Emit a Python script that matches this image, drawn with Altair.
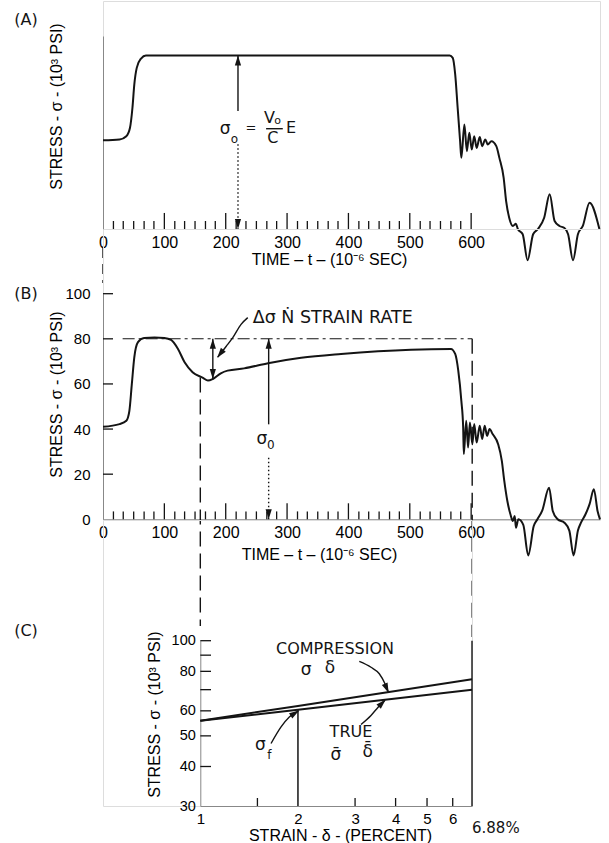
import altair as alt
import pandas as pd

FONT = "DejaVu Sans"
INK = "#141414"
ARROW = "M0,-1L0.62,1L-0.62,1Z"

# ---------------- data ----------------
# Panel A: stress vs time (elastic bar)
a_time = [0, 27, 38, 44, 48, 51, 55, 62, 70, 565, 570, 574, 578, 582, 584,
          589, 593, 597, 601, 605, 609, 614, 618, 623, 627, 633, 641, 646, 653,
          657, 662, 668, 673, 676, 684, 692, 701, 709, 719, 728, 736, 744, 752,
          758, 766, 774, 782, 793, 809]
a_stress = [40.9, 41.3, 42.8, 46.7, 55.9, 66.6, 74.3, 78.6, 80, 80, 78.9, 71.3, 55.9, 40.5, 32.8,
            48.2, 35.9, 44.4, 36.7, 42.8, 37.4, 42.4, 38.2, 41.3, 39.0, 40.5, 38.2, 32.8, 23.6,
            12.9, 5.2, 1.4, 2.4, 0, -2.4, -14.4, -2.4, 0, 5.2, 16, 3.7, 1.4, 0.5,
            -2.4, -14.4, -2.4, 1.4, 12.1, 0]

# Panel B: stress vs time (specimen)
b_time = [0, 27, 38, 43, 47, 51, 57, 67, 84, 100, 111, 122, 133, 146, 163, 171, 179, 192, 203, 230,
          269, 323, 388, 502, 567, 574, 579, 584, 587, 588, 592, 595, 598, 602, 605, 609, 614, 618,
          622, 626, 630, 635, 644, 650, 654, 659, 664, 668, 671, 673, 677, 685, 693, 702, 708, 716,
          727, 733, 741, 752, 760, 767, 774, 779, 786, 793, 800, 806, 810]
b_stress = [41.0, 42.2, 43.7, 48.1, 60.0, 71.8, 78.5, 80.4, 80.6, 80.4, 79.5, 75.6, 69.6, 65.2, 62.7,
            61.5, 62.2, 64.7, 65.9, 66.9, 69.2, 71.6, 73.3, 75.2, 75.5, 73.3, 65.9, 52.6, 40.7, 28.9,
            43.7, 31.8, 42.9, 33.3, 42.2, 34.0, 41.5, 35.6, 41.5, 37.0, 40.0, 37.8, 33.3, 25.9, 17.0,
            8.1, 2.2, -0.8, 1.5, -3.7, 0.0, -2.5, -16.0, -3.0, 0.0, 4.0, 14.0, 3.7, 0.0, -1.5, -5.0,
            -16.0, -5.0, -1.5, 2.0, 6.7, 13.3, 3.7, 0.0]

# Panel C: log stress vs log strain
c_strain = [1.0, 2.0, 6.88]
c_compression = [55.8, 62.2, 75.5]
c_true = [55.8, 60.5, 70.0]

# axis values
time_labels = [0, 100, 200, 300, 400, 500, 600]
time_major = [100, 200, 300, 400, 500, 600]
time_minor = [17, 33, 50, 67, 83, 117, 133, 150, 167, 183, 217, 233, 250, 267, 283,
              317, 333, 350, 367, 383, 417, 433, 450, 467, 483, 517, 533, 550, 567, 583]
b_ylabels = [0, 20, 40, 60, 80, 100]
b_yticks = [20, 40, 60, 80, 100]
c_xlabels = [1, 2, 3, 4, 5, 6]
c_xticks = [1.5, 3, 4, 5, 6]
c_ylabels = [30, 40, 50, 60, 80, 100]
c_yticks = [40, 50, 60, 70, 80, 90, 100]


# ---------------- helpers ----------------
def enc(xs, xa, ys, ya):
    return {"x": alt.X("x:Q", scale=xs, axis=xa), "y": alt.Y("y:Q", scale=ys, axis=ya)}


def rules(df, e, **kw):
    ee = dict(e)
    if "y2" in df:
        ee["y2"] = alt.Y2("y2:Q")
    if "x2" in df:
        ee["x2"] = alt.X2("x2:Q")
    kw.setdefault("strokeWidth", 1.4)
    return alt.Chart(df).mark_rule(color=INK, **kw).encode(**ee)


def texts(df, e, align="center"):
    return alt.Chart(df).mark_text(font=FONT, color=INK, align=align, baseline="middle").encode(
        **e, text="s:N", size=alt.Size("fs:Q", scale=None))


def heads(df, e):
    return alt.Chart(df).mark_point(shape=ARROW, filled=True, size=100, color=INK, opacity=1,
                                    strokeWidth=0).encode(**e, angle=alt.Angle("a:Q", scale=None))


def curves(df, e, **kw):
    kw.setdefault("strokeWidth", 1.4)
    return alt.Chart(df).mark_line(color=INK, interpolate="monotone", **kw).encode(**e, detail="g:N")


def xaxis_time(tx, ty):
    return alt.Axis(values=time_labels, title="TIME – t – (10⁻⁶ SEC)", labelFontSize=16,
                    labelPadding=13, labelBaseline="middle", labelFlush=False, labelOverlap=False,
                    ticks=False, tickSize=0, grid=False, titleFontSize=16, titleFontWeight="normal",
                    titleX=tx, titleY=ty, titleAlign="center", titleBaseline="middle")


def yaxis_title(text, tx, ty):
    return dict(title=text, titleFontSize=16, titleFontWeight="normal", titleAngle=270,
                titleX=tx, titleY=ty, titleAlign="center", titleBaseline="middle")


# ---------------- Panel A ----------------
xsA = alt.Scale(domain=[0, 810], nice=False, zero=False)
ysA = alt.Scale(domain=[0, 89], range=[228, 35], nice=False, zero=False)
eA = enc(xsA, xaxis_time(226, 30),
         ysA, alt.Axis(labels=False, ticks=False, tickSize=0, grid=False,
                       **yaxis_title("STRESS - σ - (10³  PSI)", -47, 105)))

A = alt.layer(
    curves(pd.DataFrame({"x": a_time, "y": a_stress, "g": "a"}), eA, strokeWidth=2),
    rules(pd.DataFrame({"x": time_major + time_minor, "y": 0.0,
                        "y2": [7.4] * len(time_major) + [3.7] * len(time_minor)}), eA, strokeWidth=1.3),
    rules(pd.DataFrame({"x": [220], "y": [80], "y2": [54.4]}), eA),
    rules(pd.DataFrame({"x": [220], "y": [39.1], "y2": [0]}), eA, strokeDash=[1.5, 2.5]),
    rules(pd.DataFrame({"x": [0], "y": [-8.8], "y2": [-24.9]}), eA, strokeDash=[10, 6]),
    rules(pd.DataFrame({"x": [265.8], "x2": [293.0], "y": [46.25]}), eA),
    heads(pd.DataFrame({"x": [220, 220], "y": [77.7, 2.3], "a": [0, 180]}), eA),
    texts(pd.DataFrame({"x": [199.0, 214.0, 241.3, 271.2, 284.5, 276.7, 306.5, -125.5],
                        "y": [46.0, 41.6, 46.7, 51.3, 49.6, 42.1, 46.7, 96.5],
                        "s": ["σ", "o", "=", "V", "o", "C", "E", "(A)"],
                        "fs": [17, 12, 13, 16, 11, 16, 16, 16]}), eA),
).properties(width=497, height=228)

# ---------------- Panel B ----------------
ysB = alt.Scale(domain=[0, 100], range=[290.3, 64.7], nice=False, zero=False)
eB = enc(xsA, xaxis_time(216, 35),
         ysB, alt.Axis(values=b_ylabels, labelFontSize=15, labelPadding=13, ticks=False, tickSize=0,
                       grid=False, **yaxis_title("STRESS - σ - (10³  PSI)", -47, 165)))

B = alt.layer(
    curves(pd.DataFrame({"x": b_time, "y": b_stress, "g": "b"}), eB, strokeWidth=2),
    rules(pd.DataFrame({"x": time_major + time_minor, "y": 0.0,
                        "y2": [7.1] * len(time_major) + [3.5] * len(time_minor)}), eB, strokeWidth=1.3),
    rules(pd.DataFrame({"x": 0.0, "x2": 16.3, "y": b_yticks}), eB, strokeWidth=1.3),
    rules(pd.DataFrame({"x": [32], "x2": [601.7], "y": [80]}), eB, strokeDash=[12, 4, 3, 4], strokeWidth=1.1),
    rules(pd.DataFrame({"x": [158.6, 601.7], "y": [62.8, 80], "y2": [-47.3, -52.2]}), eB,
          strokeDash=[15, 7], strokeWidth=1.4),
    rules(pd.DataFrame({"x": [179], "y": [80], "y2": [62.2]}), eB),
    rules(pd.DataFrame({"x": [270], "y": [80], "y2": [42.1]}), eB),
    rules(pd.DataFrame({"x": [270], "y": [27.3], "y2": [0]}), eB, strokeDash=[1.5, 2.5]),
    curves(pd.DataFrame({"x": [235.9, 225.0, 211.5, 200.6, 187.0],
                         "y": [89.4, 86.4, 80.5, 76.6, 71.9], "g": "p"}), eB),
    heads(pd.DataFrame({"x": [179, 179, 270, 270, 191.1], "y": [77.8, 64.4, 77.8, 2.2, 73.4],
                        "a": [0, 180, 0, 180, 218]}), eB),
    texts(pd.DataFrame({"x": [259.0, 273.5, -125.5], "y": [35.5, 32.8, 100],
                        "s": ["σ", "0", "(B)"], "fs": [17, 12, 16]}), eB),
    texts(pd.DataFrame({"x": [244.0], "y": [89.4], "s": ["Δσ Ṅ STRAIN RATE"], "fs": [17.5]}), eB,
          align="left"),
).properties(width=497, height=290.3)

# ---------------- Panel C ----------------
xsC = alt.Scale(type="log", domain=[1, 6.88], range=[97.3, 369], nice=False)
ysC = alt.Scale(type="log", domain=[30, 100], range=[286, 120.7], nice=False)
eC = enc(xsC, alt.Axis(values=c_xlabels, format="d", labelFontSize=15, labelPadding=12,
                       labelBaseline="middle", labelFlush=False, labelOverlap=False, ticks=False,
                       tickSize=0, grid=False, title="STRAIN - δ - (PERCENT)", titleFontSize=16,
                       titleFontWeight="normal", titleX=237, titleY=29.5, titleAlign="center",
                       titleBaseline="middle"),
         ysC, alt.Axis(values=c_ylabels, format="d", labelFontSize=14.5, labelPadding=5, ticks=False,
                       tickSize=0, grid=False, offset=-97.3, labelOverlap=False, labelFlush=False,
                       **yaxis_title("STRESS - σ - (10³ PSI)", -46, 194.2)))

C = alt.layer(
    alt.Chart(pd.DataFrame({"x": c_strain * 2, "y": c_compression + c_true,
                            "g": ["comp"] * 3 + ["true"] * 3})).mark_line(
        color=INK, strokeWidth=2).encode(**eC, detail="g:N"),
    rules(pd.DataFrame({"x": c_xticks, "y": 30.0, "y2": 31.8}), eC, strokeWidth=1.3),
    rules(pd.DataFrame({"x": 1.0, "x2": 1.079, "y": c_yticks}), eC, strokeWidth=1.3),
    rules(pd.DataFrame({"x": [2.0], "y": [30.0], "y2": [60.5]}), eC, strokeWidth=1.5),
    rules(pd.DataFrame({"x": [6.88], "y": [30.0], "y2": [100.0]}), eC, strokeWidth=1.4),
    curves(pd.DataFrame({"x": [1.652, 1.774, 1.881, 2.005, 3.091, 3.359, 3.563, 3.710, 3.798,
                               3.129, 3.359, 3.538, 3.710],
                         "y": [47.3, 53.4, 57.4, 59.9, 86.0, 82.4, 78.6, 73.1, 68.9,
                               54.3, 58.0, 61.7, 64.8],
                         "g": ["f"] * 4 + ["c"] * 5 + ["t"] * 4}), eC),
    heads(pd.DataFrame({"x": [1.957, 3.755, 3.637], "y": [59.0, 70.7, 63.5],
                        "a": [57.7, 156.7, 45]}), eC),
    texts(pd.DataFrame({"x": [2.602, 2.118, 2.511, 2.914, 2.62, 3.281, 1.531, 1.632, 0.2902],
                        "y": [94.0, 80.6, 82.0, 51.4, 43.6, 44.4, 46.7, 43.5, 107.6],
                        "s": ["COMPRESSION", "σ", "δ", "TRUE", "σ\u0304", "δ\u0304", "σ", "f", "(C)"],
                        "fs": [16, 17, 17, 16, 17, 17, 17, 12, 16]}), eC),
    texts(pd.DataFrame({"x": [6.88], "y": [25.5], "s": ["6.88%"], "fs": [15]}), eC, align="left"),
).properties(width=369, height=286)

chart = alt.vconcat(A, B, C, spacing=0, bounds="flush").properties(
    padding={"left": 13, "top": 0, "right": 4, "bottom": 0}
).configure_view(stroke=None).configure_axis(
    labelFont=FONT, titleFont=FONT, labelColor=INK, titleColor=INK, domainColor=INK,
    domainWidth=1.6, titleFontWeight="normal"
).configure(background="white")

chart.save("out.html", embed_options={"renderer": "svg", "actions": False})
